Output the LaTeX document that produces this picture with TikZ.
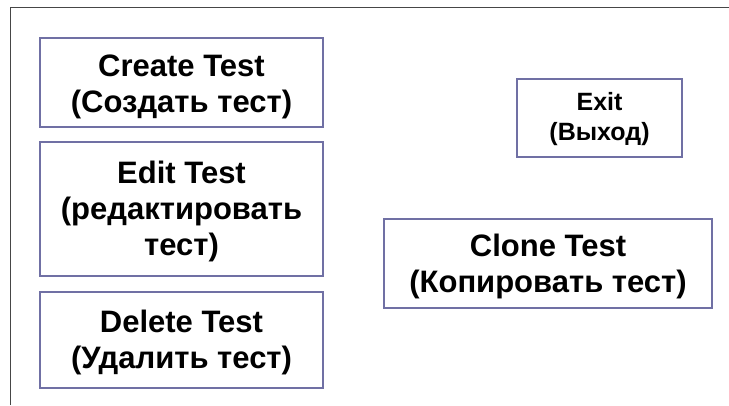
\documentclass[tikz,border=0pt]{standalone}
\usepackage{fontspec}
\setmainfont{Liberation Sans}
\definecolor{boxline}{RGB}{112,112,164}
\definecolor{frameline}{RGB}{70,70,70}
\tikzset{
  box/.style={draw=boxline, line width=1.6pt, fill=white, inner sep=0pt},
  lbl/.style={inner sep=0pt, align=center, font=\fontsize{31}{36}\selectfont\bfseries},
  smalllbl/.style={lbl, font=\fontsize{25}{30}\selectfont\bfseries}
}
\begin{document}
\begin{tikzpicture}[x=1pt,y=-1pt]
\useasboundingbox (0,0) rectangle (729,405);
\draw[frameline, line width=1pt] (10.5,405) -- (10.5,7.5) -- (729,7.5);
\node[box, minimum width=283pt, minimum height=89pt] (create) at (181.5,82.5) {};
\node[lbl] (createtext) at ([yshift=-4pt]create.center) {Create Test\\(Создать тест)};
\node[box, minimum width=283pt, minimum height=134pt] (edit) at (181.5,209) {};
\node[lbl] (edittext) at ([yshift=-2pt]edit.center) {Edit Test\\(редактировать\\тест)};
\node[box, minimum width=283pt, minimum height=96pt] (delete) at (181.5,340) {};
\node[lbl] (deletetext) at ([yshift=-2pt]delete.center) {Delete Test\\(Удалить тест)};
\node[box, minimum width=165pt, minimum height=78pt] (exit) at (599.5,118) {};
\node[smalllbl] (exittext) at ([yshift=-1pt]exit.center) {Exit\\(Выход)};
\node[box, minimum width=328pt, minimum height=89pt] (clone) at (548,263.5) {};
\node[lbl] (clonetext) at ([yshift=-3pt]clone.center) {Clone Test\\(Копировать тест)};
\end{tikzpicture}
\end{document}
